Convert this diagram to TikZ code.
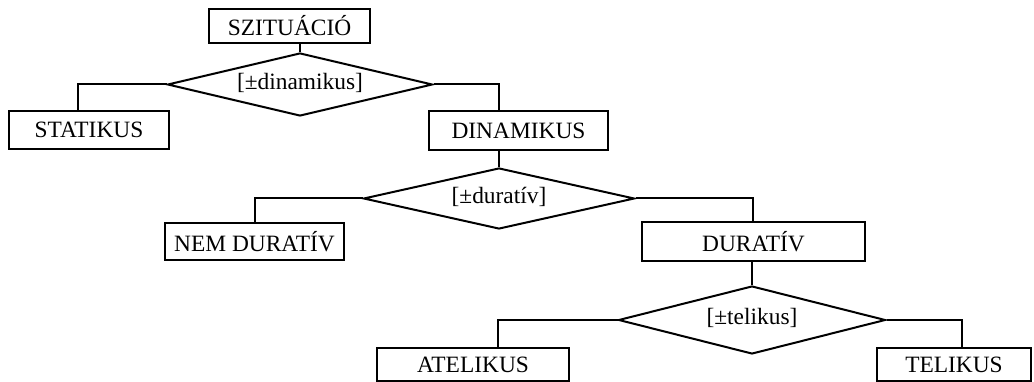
\documentclass[tikz,border=0pt]{standalone}
\usepackage{fontspec}
\setmainfont{Liberation Serif}
\usetikzlibrary{shapes.geometric}
\begin{document}
\begin{tikzpicture}[x=1pt,y=-1pt,
  box/.style={draw, line width=2pt, rectangle, inner sep=0pt, font=\fontsize{23.4}{28}\selectfont},
  dec/.style={draw, line width=2pt, diamond, inner sep=0pt},
  declabel/.style={font=\fontsize{23.4}{28}\selectfont, yshift=2pt},
  conn/.style={line width=2pt}]
\useasboundingbox (0,0) rectangle (1034,382);
\node[box, minimum width=161pt, minimum height=34pt] (sz) at (289.5,26) {SZITUÁCIÓ};
\node[box, minimum width=160pt, minimum height=38pt] (stat) at (89,130) {STATIKUS};
\node[box, minimum width=179pt, minimum height=39pt] (dina) at (518.5,130.5) {DINAMIKUS};
\node[box, minimum width=179pt, minimum height=37pt] (nem) at (254.5,241.5) {NEM DURATÍV};
\node[box, minimum width=223pt, minimum height=39pt] (dur) at (753.5,241.5) {DURATÍV};
\node[box, minimum width=192pt, minimum height=33pt] (atel) at (473,364.5) {ATELIKUS};
\node[box, minimum width=154pt, minimum height=33pt] (tel) at (954,364.5) {TELIKUS};
\node[dec, minimum width=265pt, minimum height=63pt, label={[declabel]center:[±dinamikus]}] (d1) at (300,84.5) {};
\node[dec, minimum width=271pt, minimum height=61pt, label={[declabel]center:[±duratív]}] (d2) at (499,198.5) {};
\node[dec, minimum width=267pt, minimum height=68pt, label={[declabel]center:[±telikus]}] (d3) at (752,320) {};
\coordinate (c1) at (78,84.5);
\coordinate (c2) at (499,84.5);
\coordinate (c3) at (255,198.5);
\coordinate (c4) at (753,198.5);
\coordinate (c5) at (498,320);
\coordinate (c6) at (962,320);
\draw[conn] (d1.north |- sz.south) -- (d1.north);
\draw[conn] (d1.west) -- (c1) -- (c1 |- stat.north);
\draw[conn] (d1.east) -- (c2) -- (c2 |- dina.north);
\draw[conn] (d2.north |- dina.south) -- (d2.north);
\draw[conn] (d2.west) -- (c3) -- (c3 |- nem.north);
\draw[conn] (d2.east) -- (c4) -- (c4 |- dur.north);
\draw[conn] (d3.north |- dur.south) -- (d3.north);
\draw[conn] (d3.west) -- (c5) -- (c5 |- atel.north);
\draw[conn] (d3.east) -- (c6) -- (c6 |- tel.north);
\end{tikzpicture}
\end{document}
